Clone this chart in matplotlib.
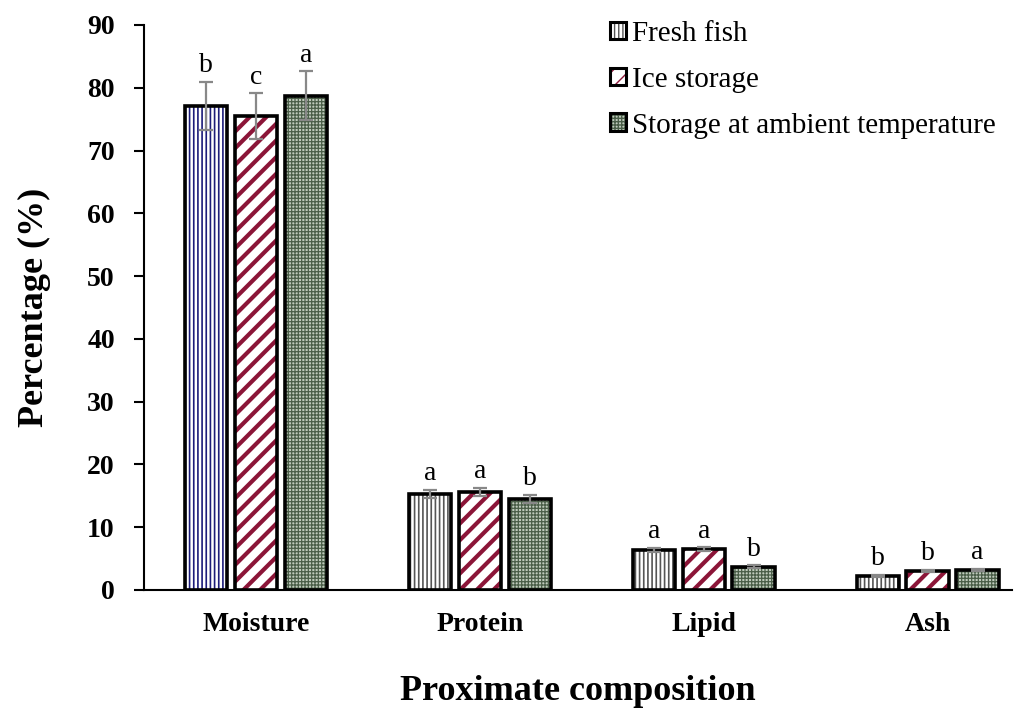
import numpy as np
import matplotlib
matplotlib.use("Agg")
import matplotlib.pyplot as plt
from matplotlib.patches import Patch
from matplotlib.legend_handler import HandlerTuple

categories = ["Moisture", "Protein", "Lipid", "Ash"]
series_names = ["Fresh fish", "Ice storage", "Storage at ambient temperature"]
fresh = [77.1, 15.3, 6.4, 2.2]
ice = [75.5, 15.6, 6.5, 3.0]
ambient = [78.7, 14.5, 3.7, 3.2]
fresh_err = [3.8, 0.7, 0.3, 0.2]
ice_err = [3.6, 0.7, 0.3, 0.2]
ambient_err = [3.9, 0.7, 0.2, 0.2]
fresh_sig = ["b", "a", "a", "b"]
ice_sig = ["c", "a", "a", "b"]
ambient_sig = ["a", "b", "b", "a"]
yticks = [0, 10, 20, 30, 40, 50, 60, 70, 80, 90]

plt.rcParams["font.family"] = ["Liberation Serif", "DejaVu Serif"]

fig = plt.figure(figsize=(10.25, 7.08), dpi=100)
ax = fig.add_axes([0.1405, 0.1667, 0.8465, 0.798])

x = np.arange(len(categories))
width = 0.19
step = 0.223

styles = [
    dict(face="white", hatch="||||", hcolor="#555555", hlw=1.2),
    dict(face="white", hatch="//", hcolor="#8b1538", hlw=3.0),
    dict(face="#bfcabc", hatch="+++++", hcolor="#4a5e48", hlw=0.9),
]
data = [fresh, ice, ambient]
errs = [fresh_err, ice_err, ambient_err]
sigs = [fresh_sig, ice_sig, ambient_sig]

handles = []
for k, (vals, err, sig, st) in enumerate(zip(data, errs, sigs, styles)):
    pos = x + (k - 1) * step
    for i, (p, v) in enumerate(zip(pos, vals)):
        hc = st["hcolor"]
        if k == 0 and i == 0:
            hc = "#1c1c7a"
        b = ax.bar(p, v, width, color=st["face"], edgecolor=hc, hatch=st["hatch"],
                   linewidth=0, zorder=2)[0]
        if hasattr(b, "set_hatch_linewidth"):
            b.set_hatch_linewidth(st["hlw"])
        ax.bar(p, v, width, color="none", edgecolor="black", linewidth=2.6, zorder=3)
    ax.errorbar(pos, vals, yerr=err, fmt="none", ecolor="#888888", elinewidth=1.6,
                capsize=5, capthick=1.6, zorder=4)
    for p, v, e, s in zip(pos, vals, err, sig):
        ax.text(p, v + e + 0.6, s, ha="center", va="bottom", fontsize=20, zorder=5)
    hp = Patch(facecolor=st["face"], edgecolor=st["hcolor"], hatch=st["hatch"], linewidth=0)
    if hasattr(hp, "set_hatch_linewidth"):
        hp.set_hatch_linewidth(st["hlw"])
    op = Patch(facecolor="none", edgecolor="black", linewidth=2.2)
    handles.append((hp, op))

ax.set_ylim(0, 90)
ax.set_xlim(-0.5, 3.375)
ax.set_yticks(yticks)
ax.set_yticklabels([str(t) for t in yticks], fontsize=20, fontweight="bold")
ax.set_xticks(x)
ax.set_xticklabels(categories, fontsize=20, fontweight="bold")
ax.tick_params(axis="x", length=0, pad=16)
ax.tick_params(axis="y", direction="out", length=7, width=1.5, pad=14)
for side in ["top", "right"]:
    ax.spines[side].set_visible(False)
for side in ["left", "bottom"]:
    ax.spines[side].set_linewidth(1.5)

ax.set_ylabel("Percentage (%)", fontsize=26, fontweight="bold", labelpad=26)
ax.set_xlabel("Proximate composition", fontsize=26, fontweight="bold", labelpad=27)

leg = ax.legend(handles, series_names, handler_map={tuple: HandlerTuple(ndivide=1)},
                loc="upper right", bbox_to_anchor=(0.995, 1.028), frameon=False,
                fontsize=21, handlelength=0.55, handleheight=0.55, handletextpad=0.2,
                labelspacing=0.68, borderaxespad=0.0)

fig.savefig("out.png", dpi=100)
